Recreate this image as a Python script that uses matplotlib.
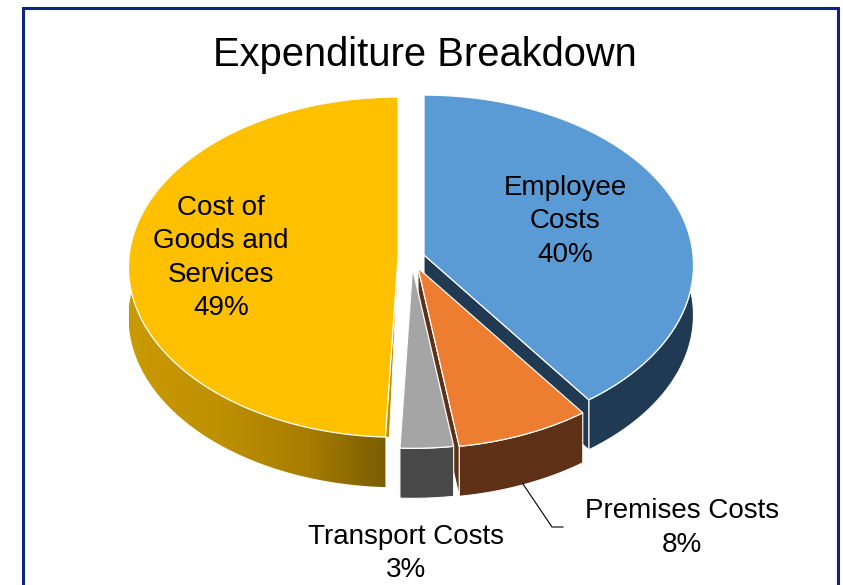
import matplotlib
matplotlib.use("Agg")
import matplotlib.pyplot as plt
import numpy as np
from matplotlib.patches import Polygon

categories = ["Employee Costs", "Premises Costs", "Transport Costs", "Cost of Goods and Services"]
shares = [40.1, 7.6, 3.0, 49.3]
label_texts = ["Employee\nCosts\n40%", "Premises Costs\n8%", "Transport Costs\n3%", "Cost of\nGoods and\nServices\n49%"]

top_colors = ["#5B9BD5", "#ED7D31", "#A5A5A5", "#FFC000"]
side_colors = ["#203A53", "#5E3116", "#484848", None]
apex = [(424, 255), (418, 268), (412.5, 268), (398, 257)]
label_pos = [(565, 221.5), (682, 528), (406, 553.5), (221, 258)]

RX, RY, DEPTH, PERSP = 269, 169.5, 50, 0.06

plt.rcParams["font.family"] = ["Liberation Sans", "DejaVu Sans"]


def project(center, angles):
    a = np.radians(angles)
    x, y = np.sin(a), np.cos(a)
    s = 1 / (1 + PERSP * y)
    return np.column_stack([center[0] + RX * x * s, center[1] - RY * y * s])


def draw_sides(i):
    c = np.array(apex[i], dtype=float)
    arc = project(c, np.linspace(starts[i], ends[i], 120))
    low = arc + [0, DEPTH]
    wall = Polygon(np.vstack([arc, low[::-1]]), closed=True, facecolor=side_colors[i] or "none",
                   edgecolor="white" if side_colors[i] else "none", lw=0.8, zorder=2)
    ax.add_patch(wall)
    if side_colors[i] is None:
        # yellow wall has a left to right gradient and only a sliver of cut face
        grad = np.linspace(0, 1, 256).reshape(1, -1)
        cmap = matplotlib.colors.LinearSegmentedColormap.from_list(
            "side", ["#C99A00", "#BF9000", "#A67D00", "#735700"])
        im = ax.imshow(grad, extent=[arc[:, 0].min(), arc[:, 0].max(), 585, 0], cmap=cmap,
                       aspect="auto", zorder=2)
        im.set_clip_path(wall)
        ax.set_xlim(0, 843)
        ax.set_ylim(585, 0)
        sliver = Polygon([c, arc[0], arc[0] + [4, 0]], closed=True, facecolor="#BF9000",
                         edgecolor="white", lw=0.6, zorder=2)
        ax.add_patch(sliver)
    elif i < 2:
        end_pt = arc[-1]
        cut = Polygon([c, end_pt, end_pt + [0, DEPTH], c + [0, DEPTH]], closed=True,
                      facecolor=side_colors[i], edgecolor="white", lw=0.8, zorder=2)
        ax.add_patch(cut)


def draw_top(i):
    c = np.array(apex[i], dtype=float)
    arc = project(c, np.linspace(starts[i], ends[i], 120))
    top = Polygon(np.vstack([c, arc]), closed=True, facecolor=top_colors[i], edgecolor="white", lw=0.9, zorder=2)
    ax.add_patch(top)


fig = plt.figure(figsize=(8.43, 5.85), dpi=100)
ax = fig.add_axes([0, 0, 1, 1])
ax.set_xlim(0, 843)
ax.set_ylim(585, 0)
ax.axis("off")

# frame, open at the bottom
ax.plot([23, 23, 838, 838], [585, 8.3, 8.3, 585], color="#10247F", lw=2.2, solid_joinstyle="miter")

ends = np.cumsum(shares) * 3.6
starts = ends - np.array(shares) * 3.6

# painted back to front; the grey slice goes over the orange cut face
for i in [0, 3]:
    draw_sides(i)
    draw_top(i)
draw_sides(1)
draw_sides(2)
draw_top(2)
draw_top(1)

# leader line for the premises label
ax.plot([523, 552, 563], [484, 527, 527], color="black", lw=0.8, zorder=3)

ax.text(425, 55.5, "Expenditure Breakdown", fontsize=28.7, ha="center", va="center", color="black", zorder=4)
for txt, (x, y) in zip(label_texts, label_pos):
    ax.text(x, y, txt, fontsize=20, ha="center", va="center", color="black", linespacing=1.37, zorder=4)

fig.savefig("out.png", dpi=100)
plt.close(fig)
